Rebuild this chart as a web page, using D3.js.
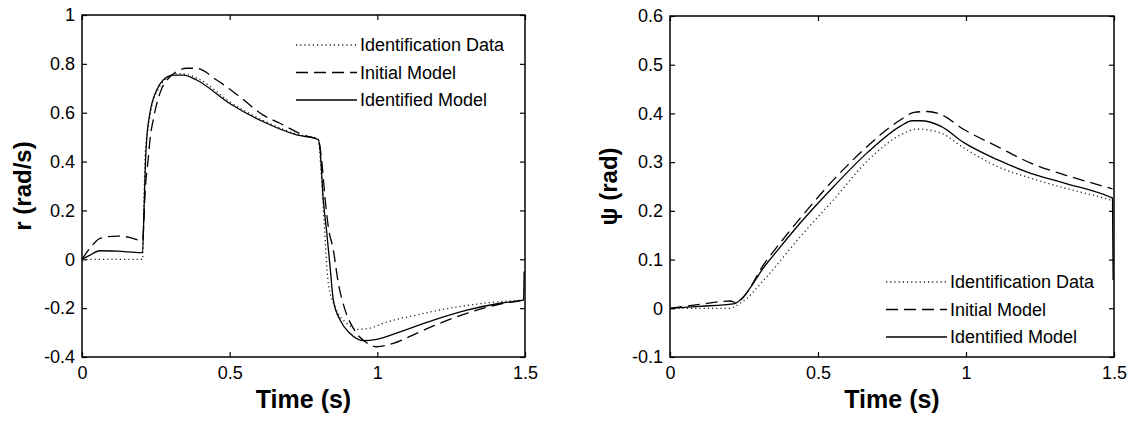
<!DOCTYPE html>
<html>
<head>
<meta charset="utf-8">
<script src="https://cdn.jsdelivr.net/npm/d3@7"></script>
<style>
  body { margin: 0; background: #fff; }
  svg text { font-family: "Liberation Sans", Arial, sans-serif; fill: #000; }
</style>
</head>
<body>
<div id="chart"></div>
<script>
// ---- data ----
var seriesNames = ["Identification Data", "Initial Model", "Identified Model"];

// left panel: r (rad/s)
var rDataT = [0, 0.2, 0.205, 0.21, 0.215, 0.222, 0.235, 0.26, 0.29, 0.325, 0.36, 0.4, 0.5, 0.614, 0.727, 0.8, 0.81, 0.82, 0.834, 0.857, 0.896, 0.936, 0.98, 1.02, 1.133, 1.246, 1.36, 1.495];
var rDataV = [0, 0, 0, 0.25, 0.45, 0.52, 0.62, 0.7, 0.745, 0.76, 0.755, 0.735, 0.645, 0.568, 0.512, 0.49, 0.35, 0.15, -0.098, -0.195, -0.262, -0.287, -0.28, -0.262, -0.228, -0.2, -0.18, -0.167];
var rInitT = [0, 0.03, 0.06, 0.118, 0.16, 0.196, 0.205, 0.215, 0.225, 0.23, 0.241, 0.264, 0.298, 0.355, 0.388, 0.456, 0.535, 0.614, 0.67, 0.749, 0.8, 0.812, 0.823, 0.834, 0.851, 0.868, 0.891, 0.919, 0.964, 0.998, 1.054, 1.133, 1.212, 1.303, 1.416, 1.495];
var rInitV = [0, 0.05, 0.085, 0.095, 0.09, 0.078, 0.08, 0.3, 0.42, 0.488, 0.57, 0.68, 0.747, 0.782, 0.782, 0.734, 0.665, 0.59, 0.557, 0.509, 0.49, 0.4, 0.25, 0.133, 0.038, -0.098, -0.208, -0.283, -0.342, -0.358, -0.344, -0.303, -0.262, -0.221, -0.183, -0.167];
var rIdT = [0, 0.027, 0.06, 0.12, 0.2, 0.205, 0.21, 0.215, 0.219, 0.23, 0.253, 0.275, 0.309, 0.343, 0.388, 0.5, 0.614, 0.727, 0.8, 0.806, 0.817, 0.829, 0.84, 0.851, 0.874, 0.907, 0.953, 0.998, 1.077, 1.19, 1.303, 1.416, 1.495, 1.497];
var rIdV = [0, 0.017, 0.035, 0.033, 0.027, 0.027, 0.2, 0.4, 0.49, 0.598, 0.693, 0.734, 0.754, 0.754, 0.734, 0.638, 0.563, 0.509, 0.49, 0.45, 0.243, 0.106, -0.031, -0.167, -0.249, -0.303, -0.333, -0.328, -0.297, -0.249, -0.208, -0.18, -0.167, -0.05];

// right panel: psi (rad)
var psiDataT = [0, 0.2, 0.237, 0.327, 0.44, 0.553, 0.666, 0.779, 0.835, 0.914, 0.993, 1.106, 1.219, 1.332, 1.479, 1.495];
var psiDataV = [0, 0, 0.01, 0.065, 0.147, 0.223, 0.302, 0.356, 0.368, 0.36, 0.329, 0.291, 0.267, 0.247, 0.224, 0.221];
var psiInitT = [0, 0.1, 0.205, 0.22, 0.327, 0.44, 0.553, 0.666, 0.779, 0.824, 0.869, 0.914, 0.993, 1.106, 1.219, 1.332, 1.45, 1.495];
var psiInitV = [0, 0.008, 0.015, 0.012, 0.099, 0.185, 0.264, 0.332, 0.387, 0.402, 0.404, 0.398, 0.367, 0.332, 0.298, 0.274, 0.253, 0.245];
var psiIdT = [0, 0.1, 0.214, 0.327, 0.44, 0.553, 0.666, 0.779, 0.818, 0.847, 0.914, 0.993, 1.106, 1.219, 1.332, 1.484, 1.495, 1.497];
var psiIdV = [0, 0.004, 0.009, 0.092, 0.175, 0.25, 0.319, 0.374, 0.385, 0.385, 0.374, 0.34, 0.305, 0.277, 0.257, 0.229, 0.226, 0.058];

var timeTicks = [0, 0.5, 1, 1.5];
var timeTickLabels = ["0", "0.5", "1", "1.5"];
var rTicks = [-0.4, -0.2, 0, 0.2, 0.4, 0.6, 0.8, 1];
var rTickLabels = ["-0.4", "-0.2", "0", "0.2", "0.4", "0.6", "0.8", "1"];
var psiTicks = [-0.1, 0, 0.1, 0.2, 0.3, 0.4, 0.5, 0.6];
var psiTickLabels = ["-0.1", "0", "0.1", "0.2", "0.3", "0.4", "0.5", "0.6"];

var width = 1130, height = 422;
var dashes = ["1.2,3", "12,6", null];

var svg = d3.select("#chart").append("svg")
  .attr("width", width)
  .attr("height", height);

function zip(t, v) {
  return t.map(function (d, i) { return [d, v[i]]; });
}

function drawPanel(p) {
  var x = d3.scaleLinear().domain([0, 1.5]).range([p.left, p.right]);
  var y = d3.scaleLinear().domain(p.yDomain).range([p.bottom, p.top]);
  var g = svg.append("g");

  // axes, ticks inward like matlab
  var xFmt = function (d) { return timeTickLabels[timeTicks.indexOf(d)]; };
  var yFmt = function (d) { return p.yLabels[p.yTicks.indexOf(d)]; };

  g.append("g")
    .attr("transform", "translate(0," + p.bottom + ")")
    .call(d3.axisBottom(x).tickValues(timeTicks).tickFormat(xFmt).tickSizeInner(-5).tickSizeOuter(0).tickPadding(9));
  g.append("g")
    .attr("transform", "translate(0," + p.top + ")")
    .call(d3.axisTop(x).tickValues(timeTicks).tickFormat("").tickSizeInner(-5).tickSizeOuter(0));
  g.append("g")
    .attr("transform", "translate(" + p.left + ",0)")
    .call(d3.axisLeft(y).tickValues(p.yTicks).tickFormat(yFmt).tickSizeInner(-5).tickSizeOuter(0).tickPadding(7));
  g.append("g")
    .attr("transform", "translate(" + p.right + ",0)")
    .call(d3.axisRight(y).tickValues(p.yTicks).tickFormat("").tickSizeInner(-5).tickSizeOuter(0));

  g.selectAll(".domain").remove();
  g.selectAll(".tick line").attr("stroke", "#000").attr("stroke-width", 1.2);
  g.selectAll(".tick text").style("font-size", "18px").attr("fill", "#000");

  g.append("rect")
    .attr("x", p.left).attr("y", p.top)
    .attr("width", p.right - p.left).attr("height", p.bottom - p.top)
    .attr("fill", "none").attr("stroke", "#000").attr("stroke-width", 1.5);

  var line = d3.line()
    .curve(d3.curveMonotoneX)
    .x(function (d) { return x(d[0]); })
    .y(function (d) { return y(d[1]); });

  p.series.forEach(function (s, i) {
    g.append("path")
      .datum(s)
      .attr("d", line)
      .attr("fill", "none")
      .attr("stroke", i == 0 ? "#222" : "#000")
      .attr("stroke-width", 1.3)
      .attr("stroke-dasharray", dashes[i]);
  });

  // legend, no box
  seriesNames.forEach(function (name, i) {
    var ly = p.legendY + i * 27.5;
    g.append("line")
      .attr("x1", p.legendX - 64).attr("x2", p.legendX - 3)
      .attr("y1", ly).attr("y2", ly)
      .attr("stroke", i == 0 ? "#222" : "#000")
      .attr("stroke-width", 1.3)
      .attr("stroke-dasharray", dashes[i]);
    g.append("text")
      .attr("x", p.legendX).attr("y", ly)
      .attr("dy", "0.35em")
      .style("font-size", "18px")
      .text(name);
  });

  // axis titles
  g.append("text")
    .attr("x", (p.left + p.right) / 2).attr("y", 408)
    .attr("text-anchor", "middle")
    .style("font-size", "25px").style("font-weight", "bold")
    .text("Time (s)");
  g.append("text")
    .attr("transform", "translate(" + p.yTitleX + "," + ((p.top + p.bottom) / 2) + ") rotate(-90)")
    .attr("text-anchor", "middle")
    .style("font-size", "24px").style("font-weight", "bold")
    .text(p.yTitle);
}

drawPanel({
  left: 82, right: 525, top: 15, bottom: 357,
  yDomain: [-0.4, 1], yTicks: rTicks, yLabels: rTickLabels,
  series: [zip(rDataT, rDataV), zip(rInitT, rInitV), zip(rIdT, rIdV)],
  legendX: 360, legendY: 45,
  yTitle: "r (rad/s)", yTitleX: 31
});

drawPanel({
  left: 670, right: 1114, top: 16, bottom: 357,
  yDomain: [-0.1, 0.6], yTicks: psiTicks, yLabels: psiTickLabels,
  series: [zip(psiDataT, psiDataV), zip(psiInitT, psiInitV), zip(psiIdT, psiIdV)],
  legendX: 950, legendY: 282,
  yTitle: "ψ (rad)", yTitleX: 617
});
</script>
</body>
</html>
